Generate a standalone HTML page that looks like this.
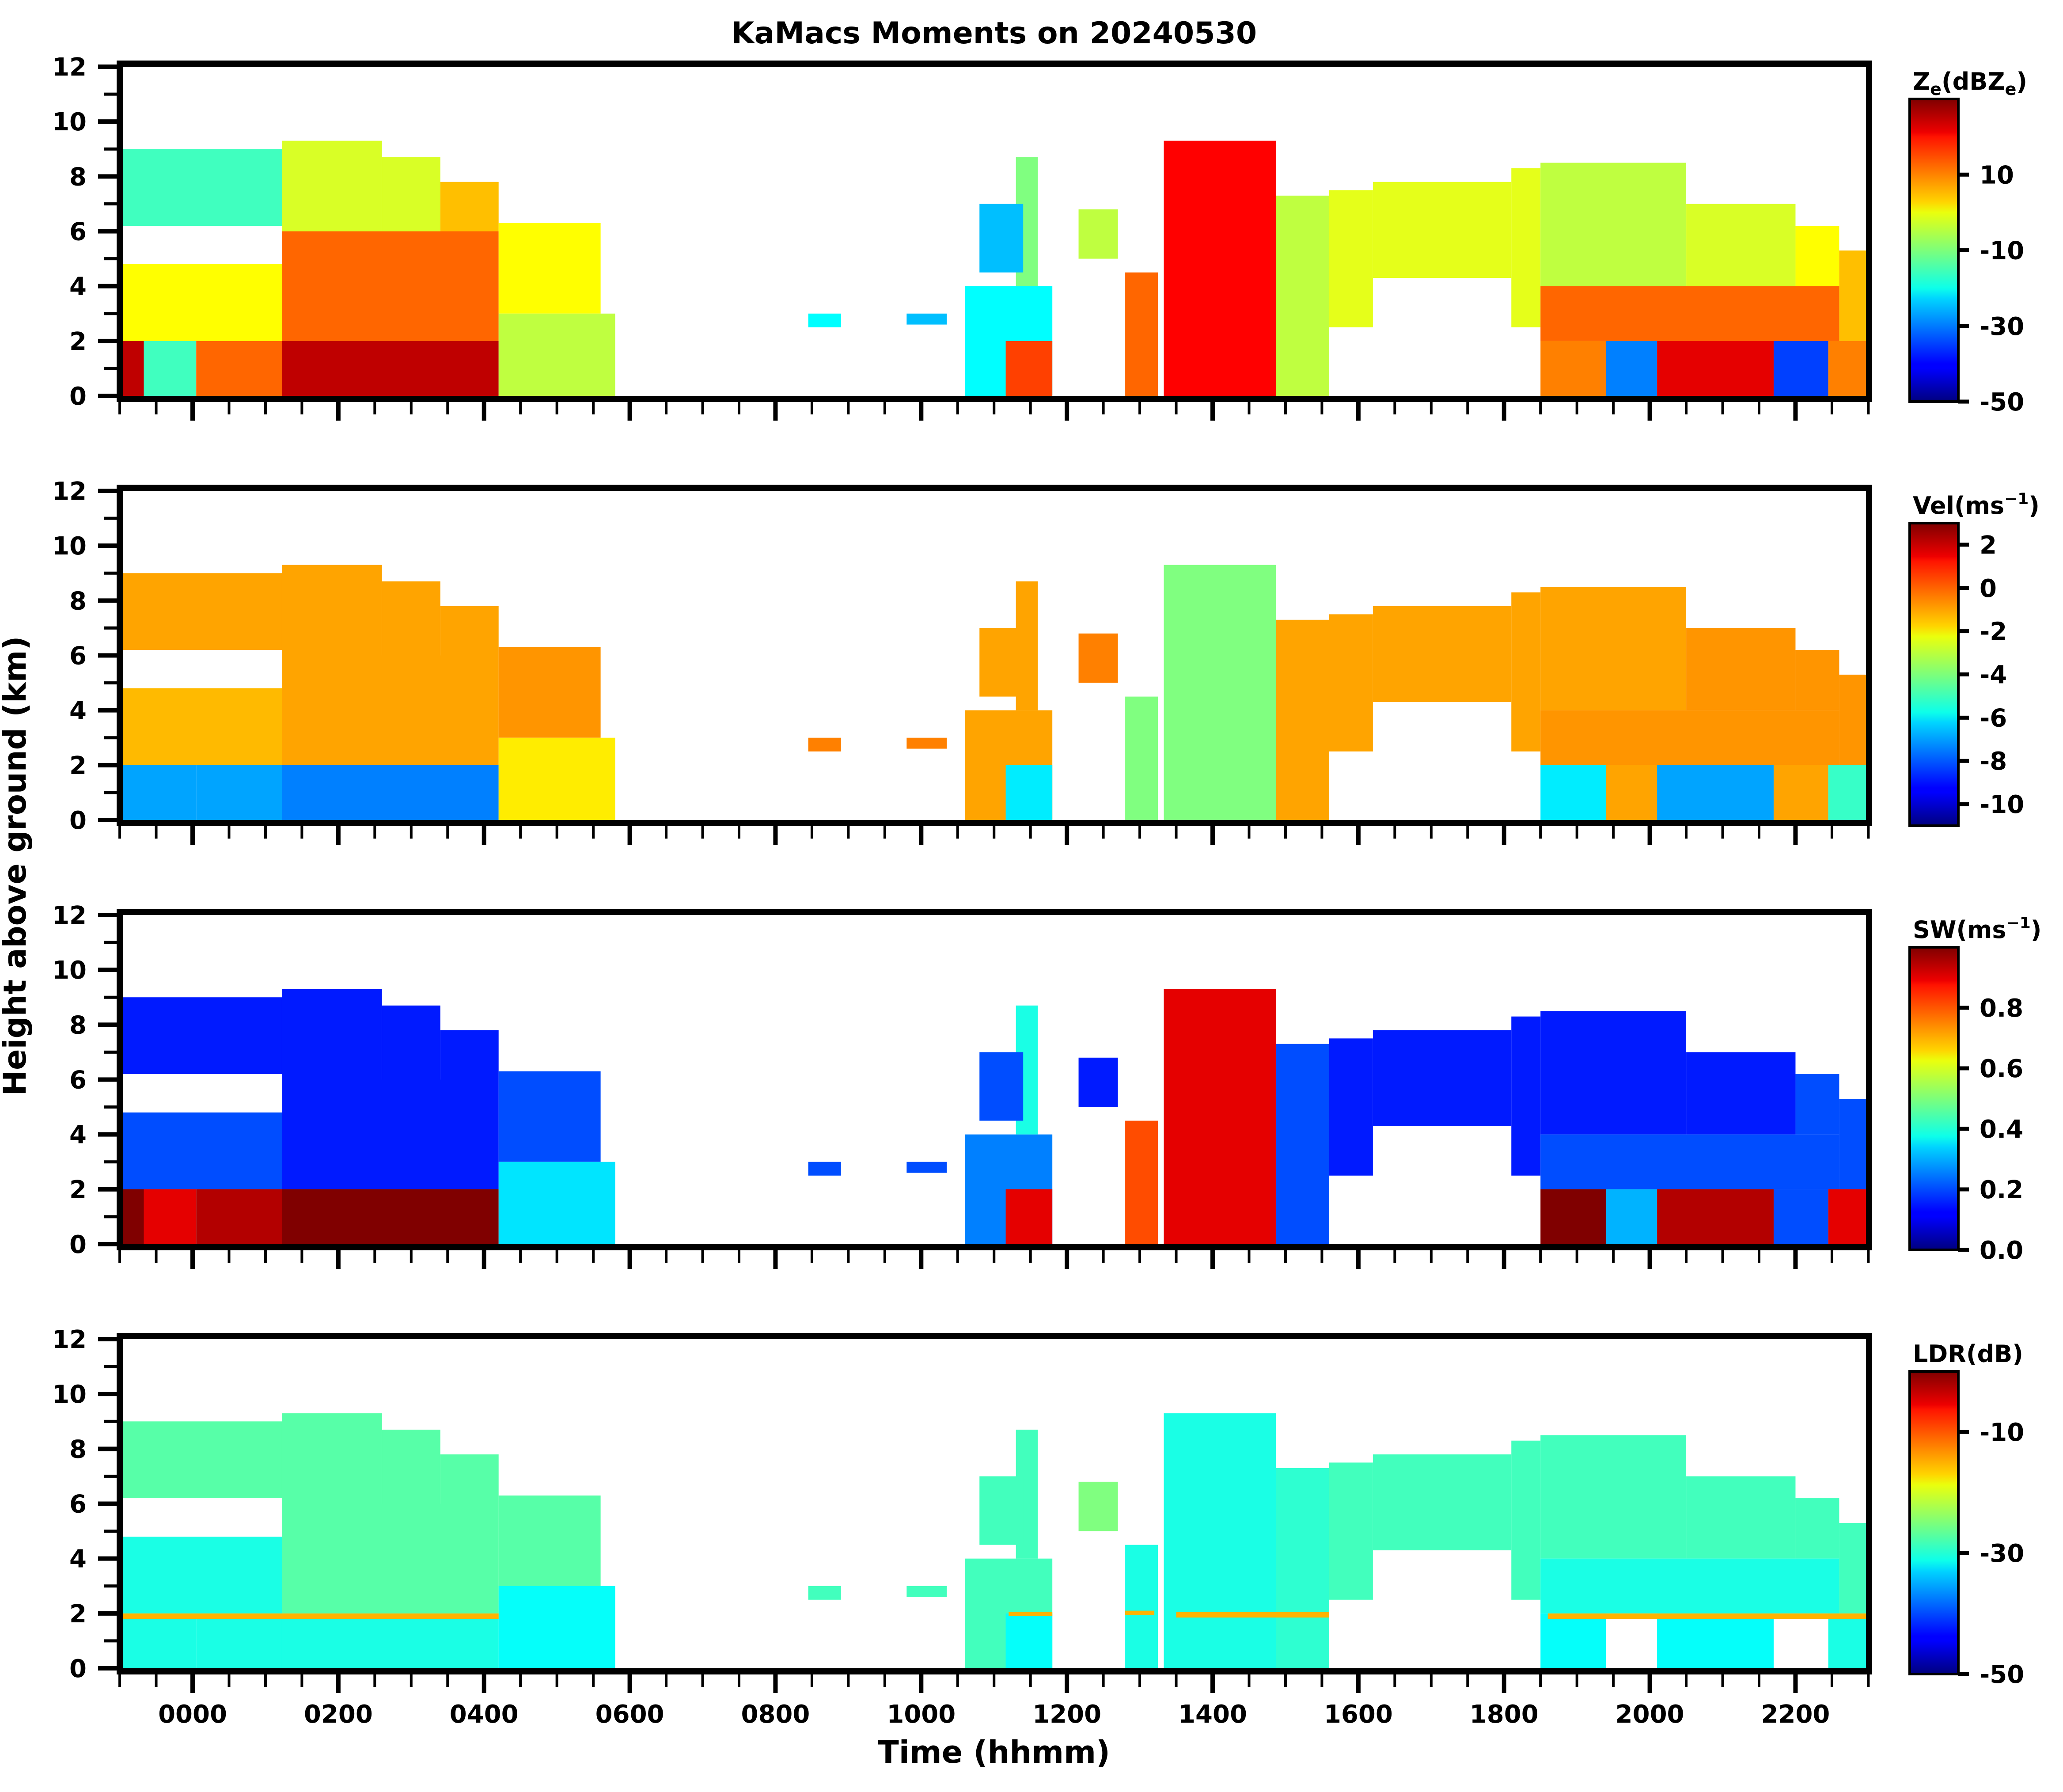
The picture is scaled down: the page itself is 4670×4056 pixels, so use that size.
<!DOCTYPE html>
<html><head><meta charset="utf-8"><style>
html,body{margin:0;padding:0;background:#fff;}
svg{display:block;}
text{font-family:"DejaVu Sans","Liberation Sans",sans-serif;font-weight:bold;fill:#000;}
</style></head><body>
<svg id="fig" width="4670" height="4056" viewBox="0 0 4670 4056" xmlns="http://www.w3.org/2000/svg">
<defs>
<linearGradient id="jet" x1="0" y1="1" x2="0" y2="0">
<stop offset="0" stop-color="#00007f"/><stop offset="0.11" stop-color="#0000ff"/><stop offset="0.125" stop-color="#0000ff"/>
<stop offset="0.34" stop-color="#00d4ff"/><stop offset="0.375" stop-color="#0dffea"/><stop offset="0.5" stop-color="#7dff7a"/>
<stop offset="0.625" stop-color="#eaff0d"/><stop offset="0.66" stop-color="#ffd400"/><stop offset="0.875" stop-color="#ff1300"/>
<stop offset="0.89" stop-color="#ee0000"/><stop offset="1" stop-color="#7f0000"/>
</linearGradient>
<clipPath id="plotclip"><rect x="278" y="0" width="3946" height="4056"/></clipPath>
</defs>
<text x="2250" y="98" font-size="68" text-anchor="middle">KaMacs Moments on 20240530</text>
<text x="0" y="0" font-size="70" text-anchor="middle" transform="translate(58,1960) rotate(-90)">Height above ground (km)</text>
<text x="2250" y="3990" font-size="70" text-anchor="middle">Time (hhmm)</text>
<g id="panels"></g>
</svg>
<script>
// cloud regions: time in hours (relative to 0000), heights in km
const regionStart  = [-1, -0.76, -1, -1, -0.67, 0.05, 1.23, 2.6, 3.4, 1.23, 1.23, 4.2, 4.2, 8.45, 9.8, 10.6, 11.16, 11.3, 10.8, 12.16, 12.8, 13.33, 14.87, 15.6, 16.2, 18.1, 18.5, 20.5, 22, 22.6, 18.5, 18.5, 19.4, 20.1, 21.7, 22.45, -1, 11.2, 12.8, 13.5, 18.6];
const regionEnd    = [1.23, 1.23, 1.23, -0.67, 0.05, 1.23, 2.6, 3.4, 4.2, 4.2, 4.2, 5.6, 5.8, 8.9, 10.35, 11.8, 11.8, 11.6, 11.4, 12.7, 13.25, 14.87, 15.6, 16.2, 18.1, 18.5, 20.5, 22, 22.6, 23, 22.6, 19.4, 20.1, 21.7, 22.45, 23, 4.2, 11.8, 13.2, 15.6, 23];
const regionBottom = [6.2, 4.8, 2, 0, 0, 0, 6, 6, 6, 2, 0, 3, 0, 2.5, 2.6, 0, 0, 4, 4.5, 5, 0, 0, 0, 2.5, 4.3, 2.5, 4, 4, 4, 2, 2, 0, 0, 0, 0, 0, 1.8, 1.9, 1.95, 1.85, 1.8];
const regionTop    = [9.0, 6.2, 4.8, 2, 2, 2, 9.3, 8.7, 7.8, 6, 2, 6.3, 3, 3, 3, 4, 2, 8.7, 7, 6.8, 4.5, 9.3, 7.3, 7.5, 7.8, 8.3, 8.5, 7, 6.2, 5.3, 4, 2, 2, 2, 2, 2, 2.0, 2.05, 2.1, 2.05, 2.0];
const zeValues  = [-15, null, 0, 25, -15, 12, -3, -3, 5, 12, 25, 0, -5, -20, -25, -20, 15, -10, -25, -5, 12, 20, -5, -2, -2, -2, -5, -3, 0, 5, 12, 10, -30, 22, -35, 10, null, null, null, null, null];
const velValues = [-1, null, -1.3, -7, -7, -7, -1, -1, -1, -1, -7.5, -0.8, -2, -0.5, -0.5, -1, -6, -1, -1, -0.5, -4, -4, -1, -1, -1, -1, -1, -0.8, -0.8, -0.8, -0.8, -6, -1, -7, -1, -5, null, null, null, null, null];
const swValues  = [0.15, null, 0.2, 1.0, 0.9, 0.95, 0.15, 0.15, 0.15, 0.15, 1.0, 0.2, 0.35, 0.2, 0.2, 0.25, 0.9, 0.4, 0.2, 0.15, 0.8, 0.9, 0.2, 0.15, 0.15, 0.15, 0.15, 0.15, 0.2, 0.2, 0.2, 1.0, 0.3, 0.95, 0.2, 0.9, null, null, null, null, null];
const ldrValues = [-27, null, -30, -30, -30, -30, -27, -27, -27, -27, -30, -27, -31, -28, -28, -28, -31, -28, -28, -25, -30, -30, -29, -28, -28, -28, -28, -28, -28, -28, -30, -31, null, -31, null, -30, -15, -15, -15, -15, -15];

const panelNames = ['ze-panel','velocity-panel','spectrum-width-panel','ldr-panel'];
const panelFields = [zeValues, velValues, swValues, ldrValues];
const cbarMin = [-50, -11, 0, -50];
const cbarMax = [30, 3, 1, 0];
const cbarTicks = [[10,-10,-30,-50],[2,0,-2,-4,-6,-8,-10],[0.8,0.6,0.4,0.2,0.0],[-10,-30,-50]];
const cbarTickLabels = [['10','-10','-30','-50'],['2','0','-2','-4','-6','-8','-10'],['0.8','0.6','0.4','0.2','0.0'],['-10','-30','-50']];
const yTickLabels = ['0','2','4','6','8','10','12'];
const xTickLabels = ['0000','0200','0400','0600','0800','1000','1200','1400','1600','1800','2000','2200'];

const NS = 'http://www.w3.org/2000/svg';
const TOPS = [151, 1111, 2071, 3031], H = 745;
const xs = t => 436 + t * 164.93;
function jet(x){
  x = Math.max(0, Math.min(1, x));
  const c = v => Math.round(255 * Math.max(0, Math.min(1, v)));
  return 'rgb(' + c(1.5 - Math.abs(4*x-3)) + ',' + c(1.5 - Math.abs(4*x-2)) + ',' + c(1.5 - Math.abs(4*x-1)) + ')';
}
function mk(tag, attrs, parent){
  const e = document.createElementNS(NS, tag);
  for (const k in attrs) e.setAttribute(k, attrs[k]);
  parent.appendChild(e); return e;
}
const root = document.getElementById('panels');
panelNames.forEach((pn, p) => {
  const T = TOPS[p];
  const ys = h => T + H - h / 12 * H;
  const g = mk('g', {}, root);
  
  
  const data = mk('g', {'clip-path':'url(#plotclip)'}, g);
  const vals = panelFields[p];
  for (let i = 0; i < regionStart.length; i++) {
    const isHole = (i === 1);
    if (vals[i] === null && !isHole) continue;
    const r = mk('rect', {x: xs(regionStart[i]), y: ys(regionTop[i]),
      width: xs(regionEnd[i]) - xs(regionStart[i]), height: ys(regionBottom[i]) - ys(regionTop[i]),
      fill: vals[i] === null ? '#ffffff' : jet((vals[i] - cbarMin[p]) / (cbarMax[p] - cbarMin[p]))}, data);
    
    
  }
  const fr = mk('rect', {x:271, y:T-7, width:3960, height:H+14, fill:'none', stroke:'#000', 'stroke-width':14}, g);
  
  
  for (let k = 0; k <= 12; k++) {
    const major = k % 2 === 0;
    mk('line', {x1:264, x2: major ? 222 : 236, y1: ys(k), y2: ys(k), stroke:'#000', 'stroke-width': major ? 10 : 7}, g);
    if (major) {
      const t = mk('text', {x:196, y: ys(k) + 20, 'font-size':56, 'text-anchor':'end'}, g);
      t.textContent = yTickLabels[k/2];
      
      
    }
  }
  for (let k = -2; k <= 46; k++) {
    const t = k / 2, major = (k % 4 === 0);
    const yb = T + H + 14;
    mk('line', {x1: xs(t), x2: xs(t), y1: yb - 2, y2: yb + (major ? 42 : 28), stroke:'#000', 'stroke-width': major ? 10 : 6}, g);
    if (major && p === 3 && t >= 0 && t <= 22) {
      const tl = mk('text', {x: xs(t), y: 3899, 'font-size':56, 'text-anchor':'middle'}, g);
      tl.textContent = xTickLabels[t/2];
      
      
    }
  }
  const cT = T + 73, cB = T + 758;
  const cb = mk('rect', {x:4323, y:cT, width:110, height:cB-cT, fill:'url(#jet)', stroke:'#000', 'stroke-width':6}, g);
  
  
  cbarTicks[p].forEach((v, j) => {
    const y = cB - (v - cbarMin[p]) / (cbarMax[p] - cbarMin[p]) * (cB - cT);
    mk('line', {x1:4433, x2:4457, y1:y, y2:y, stroke:'#000', 'stroke-width':9}, g);
    const tl = mk('text', {x:4481, y:y + 20, 'font-size':56}, g);
    tl.textContent = cbarTickLabels[p][j];
    
    
  });
});
</script>
<script>
(function(){
  const NS='http://www.w3.org/2000/svg';
  const svg=document.getElementById('fig');
  const tops=[151,1111,2071,3031];
  const html=[
    ['ze-colorbar-title','Z<tspan font-size="38" dy="12">e</tspan><tspan dy="-12">(dBZ</tspan><tspan font-size="38" dy="12">e</tspan><tspan dy="-12">)</tspan>'],
    ['vel-colorbar-title','Vel(ms<tspan font-size="36" dy="-22">−1</tspan><tspan dy="22">)</tspan>'],
    ['sw-colorbar-title','SW(ms<tspan font-size="36" dy="-22">−1</tspan><tspan dy="22">)</tspan>'],
    ['ldr-colorbar-title','LDR(dB)']
  ];
  html.forEach((h,i)=>{
    const t=document.createElementNS(NS,'text');
    t.setAttribute('x',4330);t.setAttribute('y',tops[i]+52);t.setAttribute('font-size',54);
    
    
    t.innerHTML=h[1];svg.appendChild(t);
  });
})();
</script>
</body></html>
